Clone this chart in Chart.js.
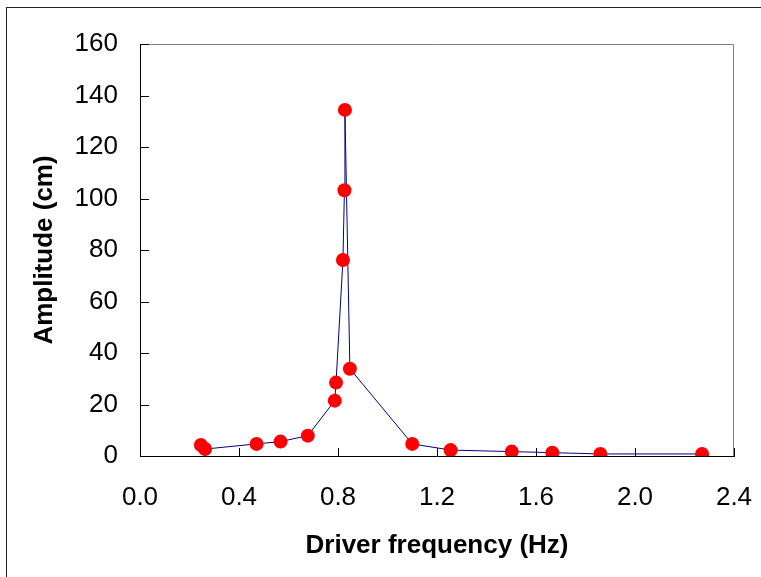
<!DOCTYPE html>
<html>
<head>
<meta charset="utf-8">
<script src="https://cdn.jsdelivr.net/npm/chart.js@4"></script>
<style>
  html, body { margin: 0; padding: 0; background: #fff; overflow: hidden; }
  #wrap { position: relative; width: 761px; height: 577px; }
  #frame { position: absolute; left: 6px; top: 7px; width: 800px; height: 600px; border: 1px solid #222; box-sizing: border-box; }
  canvas { position: absolute; left: 0; top: 0; }
</style>
</head>
<body>
<div id="wrap">
  <div id="frame"></div>
  <canvas id="resChart" width="761" height="577"></canvas>
</div>
<script>
// driver frequency (Hz) and amplitude (cm)
const freqHz = [0.246, 0.263, 0.471, 0.568, 0.678, 0.787, 0.792, 0.820, 0.826, 0.828, 0.848, 1.100, 1.255, 1.502, 1.666, 1.860, 2.271];
const amplitudeCm = [4.3, 2.7, 4.7, 5.6, 7.9, 21.5, 28.5, 76.1, 103.2, 134.4, 33.9, 4.7, 2.3, 1.7, 1.3, 0.8, 0.8];

const xTicks = [0.0, 0.4, 0.8, 1.2, 1.6, 2.0, 2.4];
const yTicks = [0, 20, 40, 60, 80, 100, 120, 140, 160];

const xTitle = 'Driver frequency (Hz)';
const yTitle = 'Amplitude (cm)';

const points = freqHz.map((f, i) => ({ x: f, y: amplitudeCm[i] }));

const FONT = 'Liberation Sans, Arial, sans-serif';

// plot frame (grey top/right) + inward tick marks like the Excel original
const framePlugin = {
    id: 'framePlugin',
    beforeDatasetsDraw(chart) {
        const { ctx, chartArea: a } = chart;
        ctx.save();
        ctx.strokeStyle = '#808080';
        ctx.lineWidth = 1;
        ctx.beginPath();
        ctx.moveTo(a.left, a.top + 0.5);
        ctx.lineTo(a.right - 0.5, a.top + 0.5);
        ctx.lineTo(a.right - 0.5, a.bottom);
        ctx.stroke();

        ctx.strokeStyle = '#000';
        ctx.beginPath();
        const xs = chart.scales.x, ys = chart.scales.y;
        xTicks.forEach(v => {
            const px = Math.round(xs.getPixelForValue(v)) + 0.5;
            ctx.moveTo(px, a.bottom);
            ctx.lineTo(px, a.bottom - 8);
        });
        yTicks.forEach(v => {
            const py = Math.round(ys.getPixelForValue(v)) + 0.5;
            ctx.moveTo(a.left, py);
            ctx.lineTo(a.left + 9, py);
        });
        ctx.stroke();
        ctx.restore();
    }
};

new Chart(document.getElementById('resChart').getContext('2d'), {
    type: 'scatter',
    data: {
        datasets: [{
            data: points,
            showLine: true,
            borderColor: '#000080',
            borderWidth: 1,
            pointRadius: 7,
            pointHoverRadius: 7,
            pointBackgroundColor: '#ff0000',
            pointBorderColor: '#ff0000',
            pointBorderWidth: 0
        }]
    },
    options: {
        responsive: false,
        animation: false,
        events: [],
        layout: { padding: { left: 0, top: 44, right: 27, bottom: 0 } },
        plugins: { legend: { display: false }, tooltip: { enabled: false } },
        scales: {
            x: {
                type: 'linear',
                min: 0,
                max: 2.4,
                afterBuildTicks: s => { s.ticks = xTicks.map(v => ({ value: v })); },
                afterFit: s => { s.height = 121; s.paddingLeft = 0; s.paddingRight = 0; },
                grid: { display: false, drawTicks: false },
                border: { display: true, color: '#000', width: 1 },
                ticks: {
                    padding: 26,
                    color: '#000',
                    font: { family: FONT, size: 26 },
                    callback: v => Number(v).toFixed(1)
                },
                title: {
                    display: true,
                    text: xTitle,
                    color: '#000',
                    font: { family: FONT, size: 26, weight: 'bold' },
                    padding: { top: 0, bottom: 16 }
                }
            },
            y: {
                type: 'linear',
                min: 0,
                max: 160,
                afterBuildTicks: s => { s.ticks = yTicks.map(v => ({ value: v })); },
                afterFit: s => { s.width = 140; s.paddingTop = 0; s.paddingBottom = 0; },
                grid: { display: false, drawTicks: false },
                border: { display: true, color: '#000', width: 1 },
                ticks: {
                    padding: 22,
                    color: '#000',
                    font: { family: FONT, size: 26 }
                },
                title: {
                    display: true,
                    text: yTitle,
                    color: '#000',
                    font: { family: FONT, size: 26, weight: 'bold' },
                    padding: { top: 29, bottom: 0 }
                }
            }
        }
    },
    plugins: [framePlugin]
});
</script>
</body>
</html>
